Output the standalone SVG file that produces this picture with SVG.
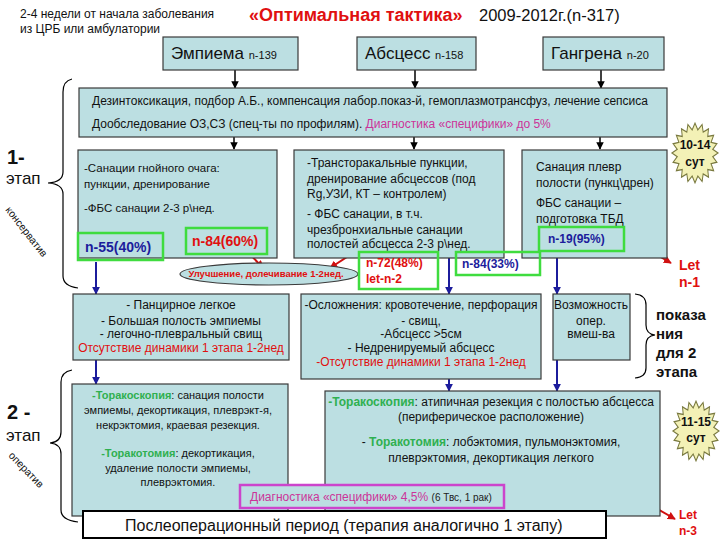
<svg xmlns="http://www.w3.org/2000/svg" width="720" height="540" viewBox="0 0 720 540">
<defs>
<style>
text{font-family:"Liberation Sans",Arial,sans-serif;fill:#111}
.box{fill:#bcdfe2;stroke:#3a3a3a;stroke-width:1.2}
.g{fill:none;stroke:#3fdc3f;stroke-width:2.5}
.t11{font-size:11px}
.t115{font-size:11.5px}
.t12{font-size:12px}
.c{text-anchor:middle}
.red{fill:#e01010}
.blue{fill:#1c1c9c}
.mag{fill:#cc3399}
.grn{fill:#2fb050;font-weight:bold}
.b{font-weight:bold}
.blk{stroke:#000;stroke-width:1.5;fill:none}
.nav{stroke:#1c1c9c;stroke-width:2;fill:none}
.rar{stroke:#d01010;stroke-width:2;fill:none}
.br{stroke:#000;stroke-width:1.2;fill:none}
.star{fill:#f3f1b6;stroke:#7a7a40;stroke-width:1}
</style>
<marker id="ak" viewBox="0 0 10 10" refX="9" refY="5" markerWidth="5" markerHeight="5" orient="auto"><path d="M0,0 L10,5 L0,10 z" fill="#000"/></marker>
<marker id="an" viewBox="0 0 10 10" refX="9" refY="5" markerWidth="4" markerHeight="4" orient="auto"><path d="M0,0 L10,5 L0,10 z" fill="#1c1c9c"/></marker>
<marker id="ar" viewBox="0 0 10 10" refX="9" refY="5" markerWidth="4" markerHeight="4" orient="auto"><path d="M0,0 L10,5 L0,10 z" fill="#d01010"/></marker>
<polygon id="starShape" points="23,0 17.78,2.82 21.87,7.11 16.04,8.17 18.61,13.52 12.73,12.73 13.52,18.61 8.17,16.04 7.11,21.87 2.82,17.78 0,23 -2.82,17.78 -7.11,21.87 -8.17,16.04 -13.52,18.61 -12.73,12.73 -18.61,13.52 -16.04,8.17 -21.87,7.11 -17.78,2.82 -23,0 -17.78,-2.82 -21.87,-7.11 -16.04,-8.17 -18.61,-13.52 -12.73,-12.73 -13.52,-18.61 -8.17,-16.04 -7.11,-21.87 -2.82,-17.78 0,-23 2.82,-17.78 7.11,-21.87 8.17,-16.04 13.52,-18.61 12.73,-12.73 18.61,-13.52 16.04,-8.17 21.87,-7.11 17.78,-2.82"/>
</defs>

<g id="header">
<text x="20" y="18" class="t12">2-4 недели от начала заболевания</text>
<text x="20" y="33" class="t12">из ЦРБ или амбулатории</text>
<text x="249" y="21" class="red b" style="font-size:18px">«Оптимальная тактика»</text>
<text x="479" y="21" style="font-size:16.5px">2009-2012г.(n-317)</text>
</g>

<g id="connectors">
<line x1="235" y1="70" x2="235" y2="88" class="blk" marker-end="url(#ak)"/>
<line x1="415" y1="70" x2="415" y2="88" class="blk" marker-end="url(#ak)"/>
<line x1="601" y1="70" x2="601" y2="88" class="blk" marker-end="url(#ak)"/>
<line x1="234" y1="137" x2="234" y2="149" class="blk" marker-end="url(#ak)"/>
<line x1="414" y1="137" x2="414" y2="149" class="blk" marker-end="url(#ak)"/>
<line x1="600" y1="137" x2="600" y2="149" class="blk" marker-end="url(#ak)"/>
<line x1="96" y1="262" x2="96" y2="294" class="nav" marker-end="url(#an)"/>
<line x1="449" y1="258" x2="449" y2="294" class="nav" marker-end="url(#an)"/>
<line x1="557" y1="258" x2="557" y2="294" class="nav" marker-end="url(#an)"/>
<line x1="96" y1="360" x2="96" y2="384" class="nav" marker-end="url(#an)"/>
<line x1="449" y1="379" x2="449" y2="391" class="nav" marker-end="url(#an)"/>
<line x1="557" y1="360" x2="557" y2="391" class="nav" marker-end="url(#an)"/>
<line x1="246" y1="250" x2="263" y2="268" class="rar" marker-end="url(#ar)"/>
<line x1="370" y1="242" x2="330" y2="268" class="rar" marker-end="url(#ar)"/>
<line x1="640" y1="245" x2="671" y2="263" class="rar" marker-end="url(#ar)"/>
<line x1="647" y1="503" x2="675" y2="519" class="rar" marker-end="url(#ar)"/>
</g>

<g id="top-empyema">
<rect x="163" y="37" width="135" height="33" class="box"/>
<text x="171" y="59" style="font-size:17px">Эмпиема <tspan style="font-size:11px">n-139</tspan></text>
</g>
<g id="top-abscess">
<rect x="357" y="37" width="119" height="33" class="box"/>
<text x="365" y="59" style="font-size:17px">Абсцесс <tspan style="font-size:11px">n-158</tspan></text>
</g>
<g id="top-gangrene">
<rect x="543" y="37" width="121" height="33" class="box"/>
<text x="551" y="59" style="font-size:17px">Гангрена <tspan style="font-size:11px">n-20</tspan></text>
</g>

<g id="band">
<rect x="79" y="88" width="588" height="49" class="box"/>
<text x="92" y="105" class="t12">Дезинтоксикация, подбор А.Б., компенсация лабор.показ-й, гемоплазмотрансфуз, лечение сепсиса</text>
<text x="92" y="128" class="t12">Дообследование ОЗ,СЗ (спец-ты по профилям). <tspan class="mag">Диагностика «специфики» до 5%</tspan></text>
</g>

<g id="stage1-label">
<text x="7" y="164" class="b" style="font-size:20px">1-</text>
<text x="6" y="184" style="font-size:17px">этап</text>
<text transform="translate(5,210) rotate(52)" style="font-size:10.5px">консерватив</text>
<path class="br" d="M72 79 Q63 81 63 92 L63 172 Q63 182 48 183 Q63 184 63 194 L63 276 Q63 286 78 288"/>
</g>

<g id="box-sanation">
<rect x="78" y="150" width="199" height="108" class="box"/>
<text x="84" y="172" class="t115">-Санации гнойного очага:</text>
<text x="84" y="188" class="t115">пункции, дренирование</text>
<text x="84" y="212" class="t115">-ФБС санации 2-3 р\нед.</text>
</g>

<g id="box-transthoracic">
<rect x="294" y="150" width="210" height="108" class="box"/>
<text x="307" y="167" class="t12">-Трансторакальные пункции,</text>
<text x="307" y="183" class="t12">дренирование абсцессов (под</text>
<text x="307" y="198" class="t12">Rg,УЗИ, КТ – контролем)</text>
<text x="307" y="218" class="t12">- ФБС санации, в т.ч.</text>
<text x="307" y="234" class="t12">чрезбронхиальные санации</text>
<text x="307" y="248" class="t12">полостей абсцесса 2-3 р\нед.</text>
</g>

<g id="box-pleural">
<rect x="522" y="150" width="145" height="108" class="box"/>
<text x="536" y="171" class="t12">Санация плевр</text>
<text x="536" y="187" class="t12">полости (пункц\дрен)</text>
<text x="536" y="207" class="t12">ФБС санации –</text>
<text x="536" y="223" class="t12">подготовка ТБД</text>
</g>

<g id="n55">
<rect x="78" y="233" width="85" height="27" class="g"/>
<text x="85" y="252" class="blue b" style="font-size:14px">n-55(40%)</text>
</g>
<g id="n84-60">
<rect x="186" y="228" width="81" height="26" class="g"/>
<text x="192" y="246" class="red b" style="font-size:14px">n-84(60%)</text>
</g>
<g id="n19">
<rect x="539" y="227" width="85" height="24" class="g"/>
<text x="548" y="243" class="blue b" style="font-size:12px">n-19(95%)</text>
</g>

<g id="improvement">
<ellipse cx="269" cy="274" rx="89" ry="11" class="box"/>
<text x="266" y="277" class="red b c" style="font-size:9.5px">Улучшение, долечивание 1-2нед.</text>
</g>
<g id="n72">
<rect x="359" y="252" width="79" height="37" class="g"/>
<text x="366" y="267" class="red b" style="font-size:12px">n-72(48%)</text>
<text x="366" y="283" class="red b" style="font-size:12px">let-n-2</text>
</g>
<g id="n84-33">
<rect x="456" y="252" width="84" height="23" class="g"/>
<text x="462" y="268" class="blue b" style="font-size:12px">n-84(33%)</text>
</g>
<g id="let-n1">
<text x="679" y="270" class="red b" style="font-size:14px">Let</text>
<text x="679" y="287" class="red b" style="font-size:14px">n-1</text>
</g>
<g id="star1">
<use href="#starShape" class="star" transform="translate(695,153) scale(1,1.3)" vector-effect="non-scaling-stroke"/>
<text x="695" y="149" class="b c" style="font-size:12px">10-14</text>
<text x="695" y="166" class="b c" style="font-size:12px">сут</text>
</g>

<g id="box-empyema-indications">
<rect x="73" y="294" width="216" height="66" class="box"/>
<text x="181" y="309" class="t12 c">- Панцирное легкое</text>
<text x="181" y="325" class="t12 c">- Большая полость эмпиемы</text>
<text x="181" y="338" class="t12 c">- легочно-плевральный свищ</text>
<text x="181" y="352" class="t12 c red">Отсутствие динамики 1 этапа 1-2нед</text>
</g>
<g id="box-abscess-indications">
<rect x="301" y="294" width="240" height="85" class="box"/>
<text x="421" y="309" class="t12 c">-Осложнения: кровотечение, перфорация</text>
<text x="421" y="325" class="t12 c">- свищ,</text>
<text x="421" y="338" class="t12 c">-Абсцесс &gt;5см</text>
<text x="421" y="352" class="t12 c">- Недренируемый абсцесс</text>
<text x="421" y="366" class="t12 c red">-Отсутствие динамики 1 этапа 1-2нед</text>
</g>
<g id="box-possibility">
<rect x="553" y="294" width="77" height="66" class="box"/>
<text x="591" y="309" class="t12 c">Возможность</text>
<text x="591" y="325" class="t12 c">опер.</text>
<text x="591" y="338" class="t12 c">вмеш-ва</text>
</g>
<g id="indications-label">
<path class="br" d="M635 294 Q646 295 646 305 L646 325 Q646 334 655 335 Q646 336 646 345 L646 368 Q646 377 635 378"/>
<text x="656" y="320" class="b" style="font-size:15px">показа</text>
<text x="656" y="339" class="b" style="font-size:15px">ния</text>
<text x="656" y="358" class="b" style="font-size:15px">для 2</text>
<text x="656" y="377" class="b" style="font-size:15px">этапа</text>
</g>

<g id="stage2-label">
<text x="7" y="419" class="b" style="font-size:20px">2 -</text>
<text x="6" y="441" style="font-size:17px">этап</text>
<text transform="translate(8,456) rotate(46)" style="font-size:10.5px">оператив</text>
<path class="br" d="M72 370 Q61 372 61 382 L61 432 Q61 442 50 443 Q61 444 61 454 L61 510 Q61 520 78 522"/>
</g>

<g id="box-empyema-surgery">
<rect x="72" y="384" width="216" height="132" class="box"/>
<text x="178" y="399" class="t11 c"><tspan class="grn">-Торакоскопия</tspan>: санация полости</text>
<text x="178" y="414" class="t11 c">эмпиемы, декортикация, плеврэкт-я,</text>
<text x="178" y="429" class="t11 c">некрэктомия, краевая резекция.</text>
<text x="178" y="457" class="t11 c"><tspan class="grn">-Торакотомия</tspan>: декортикация,</text>
<text x="178" y="472" class="t11 c">удаление полости эмпиемы,</text>
<text x="178" y="486" class="t11 c">плеврэктомия.</text>
</g>
<g id="box-abscess-surgery">
<rect x="325" y="391" width="335" height="125" class="box"/>
<text x="491" y="406" class="t12 c"><tspan class="grn">-Торакоскопия</tspan>: атипичная резекция с полостью абсцесса</text>
<text x="491" y="421" class="t12 c">(периферическое расположение)</text>
<text x="491" y="446" class="t12 c">- <tspan class="grn">Торакотомия</tspan>: лобэктомия, пульмонэктомия,</text>
<text x="491" y="462" class="t12 c">плеврэктомия, декортикация легкого</text>
</g>
<g id="star2">
<use href="#starShape" class="star" transform="translate(696,431) scale(1,1.3)" vector-effect="non-scaling-stroke"/>
<text x="696" y="426" class="b c" style="font-size:12px">11-15</text>
<text x="696" y="442" class="b c" style="font-size:12px">сут</text>
</g>
<g id="diagnostics">
<rect x="240" y="485" width="264" height="23" fill="#bcdfe2" stroke="#cc44cc" stroke-width="2.5"/>
<text x="250" y="501" class="t12 mag">Диагностика «специфики» 4,5% <tspan style="font-size:10px;fill:#222">(6 Твс, 1 рак)</tspan></text>
</g>
<g id="postop">
<rect x="83" y="511" width="523" height="27" fill="#fff" stroke="#000" stroke-width="2"/>
<text x="125" y="531" style="font-size:16px">Послеоперационный период (терапия аналогично 1 этапу)</text>
</g>
<g id="let-n3">
<text x="679" y="519" class="red b" style="font-size:12px">Let</text>
<text x="679" y="535" class="red b" style="font-size:12px">n-3</text>
</g>
</svg>
